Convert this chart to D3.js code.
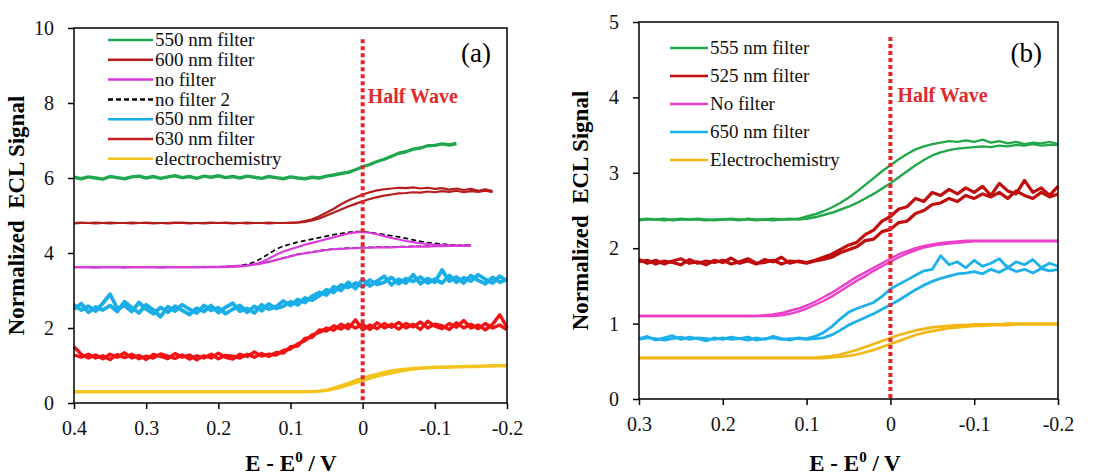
<!DOCTYPE html>
<html>
<head>
<meta charset="utf-8">
<script src="https://cdn.jsdelivr.net/npm/d3@7"></script>
<style>
body { margin: 0; background: #fff; }
svg { display: block; }
text { font-family: "Liberation Serif", "Times New Roman", serif; }
</style>
</head>
<body>
<script>
// ---------- panel (a) data ----------
var voltsA = [0.40,0.39,0.38,0.37,0.36,0.35,0.34,0.33,0.32,0.31,
  0.30,0.29,0.28,0.27,0.26,0.25,0.24,0.23,0.22,0.21,
  0.20,0.19,0.18,0.17,0.16,0.15,0.14,0.13,0.12,0.11,
  0.10,0.09,0.08,0.07,0.06,0.05,0.04,0.03,0.02,0.01,
  0.00,-0.01,-0.02,-0.03,-0.04,-0.05,-0.06,-0.07,-0.08,-0.09,
  -0.10,-0.11,-0.12,-0.13,-0.14,-0.15,-0.16,-0.17,-0.18,-0.19,-0.20];

var green550 = [6.02,5.98,6.03,6.00,5.97,6.04,6.01,5.98,6.03,6.05,
  6.00,6.04,5.99,6.03,6.06,6.01,6.04,5.99,6.05,6.02,
  6.06,6.01,6.04,6.00,6.05,6.02,5.99,6.04,6.01,5.98,
  6.03,6.00,5.98,6.02,6.00,6.05,6.08,6.12,6.15,6.22,
  6.30,6.36,6.44,6.50,6.58,6.66,6.70,6.77,6.80,6.86,
  6.87,6.91,6.88,6.92,null,null,null,null,null,null,null];

var red600Up = [4.80,4.81,4.80,4.79,4.80,4.81,4.80,4.80,4.79,4.80,
  4.81,4.80,4.80,4.79,4.80,4.81,4.80,4.80,4.79,4.80,
  4.80,4.81,4.80,4.80,4.79,4.80,4.80,4.81,4.80,4.80,
  4.81,4.82,4.85,4.90,4.98,5.08,5.18,5.30,5.40,5.48,
  5.56,5.62,5.67,5.70,5.72,5.74,5.73,5.75,5.72,5.74,
  5.71,5.73,5.69,5.72,5.68,5.71,5.66,5.70,5.65,null,null];
var red600Down = [4.79,4.80,4.80,4.81,4.80,4.79,4.80,4.80,4.81,4.80,
  4.80,4.79,4.80,4.80,4.81,4.80,4.79,4.80,4.80,4.81,
  4.80,4.80,4.79,4.80,4.81,4.80,4.80,4.79,4.80,4.80,
  4.80,4.81,4.83,4.87,4.92,5.00,5.08,5.16,5.24,5.31,
  5.38,5.44,5.49,5.53,5.56,5.59,5.60,5.62,5.61,5.64,
  5.62,5.65,5.63,5.66,5.62,5.65,5.63,5.66,5.62,null,null];

var noFilterUp = [3.62,3.62,3.62,3.61,3.62,3.62,3.62,3.61,3.62,3.62,
  3.62,3.62,3.61,3.62,3.62,3.62,3.62,3.62,3.63,3.62,
  3.62,3.63,3.63,3.64,3.66,3.70,3.76,3.85,3.95,4.04,
  4.10,4.16,4.22,4.27,4.32,4.37,4.42,4.47,4.52,4.55,
  4.56,4.54,4.50,4.45,4.40,4.36,4.32,4.29,4.26,4.24,
  4.22,4.21,4.20,4.20,4.19,4.19,null,null,null,null,null];
var noFilterDown = [3.62,3.62,3.62,3.62,3.62,3.62,3.62,3.62,3.62,3.62,
  3.62,3.62,3.62,3.62,3.62,3.62,3.62,3.62,3.62,3.63,
  3.63,3.64,3.65,3.66,3.67,3.69,3.72,3.76,3.81,3.86,
  3.91,3.96,3.99,4.02,4.05,4.08,4.10,4.11,4.12,4.13,
  4.14,4.14,4.15,4.15,4.15,4.16,4.16,4.17,4.17,4.17,
  4.18,4.18,4.19,4.19,4.19,4.20,null,null,null,null,null];

var noFilter2Up = [3.62,3.62,3.62,3.62,3.62,3.62,3.62,3.62,3.62,3.62,
  3.62,3.62,3.62,3.62,3.62,3.62,3.62,3.62,3.62,3.62,
  3.62,3.63,3.64,3.66,3.70,3.76,3.86,3.98,4.10,4.18,
  4.24,4.29,4.33,4.37,4.41,4.45,4.49,4.52,4.55,4.57,
  4.57,4.55,4.52,4.49,4.46,4.43,4.39,4.35,4.31,4.28,
  4.26,4.24,4.22,4.21,4.20,4.20,null,null,null,null,null];
var noFilter2Down = [3.62,3.62,3.62,3.62,3.62,3.62,3.62,3.62,3.62,3.62,
  3.62,3.62,3.62,3.62,3.62,3.62,3.62,3.62,3.62,3.62,
  3.63,3.64,3.65,3.67,3.68,3.70,3.73,3.77,3.82,3.87,
  3.92,3.97,4.00,4.03,4.06,4.09,4.11,4.12,4.13,4.14,
  4.15,4.15,4.16,4.16,4.16,4.17,4.17,4.18,4.18,4.18,
  4.19,4.19,4.20,4.20,4.21,4.21,null,null,null,null,null];

var blue650A1 = [2.62,2.48,2.58,2.45,2.66,2.90,2.52,2.60,2.44,2.68,
  2.50,2.38,2.55,2.42,2.58,2.47,2.36,2.53,2.44,2.60,
  2.41,2.55,2.66,2.45,2.52,2.40,2.62,2.50,2.57,2.72,
  2.60,2.76,2.68,2.85,2.95,2.88,3.10,3.00,3.22,3.05,
  3.30,3.12,3.25,3.38,3.15,3.30,3.20,3.42,3.18,3.32,
  3.22,3.55,3.25,3.36,3.20,3.40,3.27,3.18,3.35,3.22,3.30];
var blue650A2 = [2.50,2.65,2.42,2.56,2.48,2.60,2.44,2.70,2.55,2.40,
  2.62,2.48,2.30,2.57,2.45,2.62,2.50,2.40,2.60,2.47,
  2.54,2.38,2.50,2.60,2.42,2.58,2.46,2.64,2.52,2.58,
  2.70,2.62,2.80,2.74,2.86,3.02,2.95,3.15,3.08,3.20,
  3.10,3.28,3.16,3.22,3.35,3.18,3.32,3.24,3.36,3.20,
  3.30,3.20,3.40,3.22,3.34,3.25,3.42,3.30,3.20,3.38,3.25];

var red630A1 = [1.50,1.30,1.20,1.28,1.18,1.30,1.22,1.34,1.20,1.27,
  1.16,1.30,1.24,1.18,1.32,1.22,1.28,1.15,1.26,1.20,
  1.33,1.22,1.17,1.30,1.24,1.36,1.25,1.30,1.28,1.40,
  1.44,1.58,1.66,1.82,1.88,2.00,1.94,2.10,1.98,2.22,
  1.95,2.08,1.98,2.12,2.02,2.15,2.00,2.10,1.96,2.18,
  2.05,1.98,2.12,2.02,2.20,2.00,2.08,1.95,2.10,2.35,2.02];
var red630A2 = [1.28,1.22,1.30,1.20,1.26,1.16,1.29,1.21,1.30,1.18,
  1.25,1.20,1.31,1.25,1.19,1.28,1.17,1.26,1.20,1.30,
  1.18,1.27,1.25,1.20,1.30,1.22,1.32,1.24,1.35,1.33,
  1.50,1.52,1.72,1.75,1.95,1.92,2.06,1.97,2.10,2.00,
  2.10,1.96,2.14,2.00,2.10,1.97,2.12,2.03,2.16,2.00,
  2.10,2.06,1.96,2.14,2.00,2.10,1.98,2.12,2.00,2.08,1.95];

var echemAUp = [0.30,0.30,0.30,0.30,0.30,0.30,0.30,0.30,0.30,0.30,
  0.30,0.30,0.30,0.30,0.30,0.30,0.30,0.30,0.30,0.30,
  0.30,0.30,0.30,0.30,0.30,0.30,0.30,0.30,0.30,0.30,
  0.30,0.30,0.30,0.31,0.32,0.35,0.40,0.46,0.53,0.60,
  0.66,0.72,0.77,0.82,0.86,0.89,0.91,0.93,0.94,0.95,
  0.96,0.96,0.97,0.97,0.98,0.98,0.99,0.99,1.00,1.00,1.00];
var echemADown = [0.30,0.30,0.30,0.30,0.30,0.30,0.30,0.30,0.30,0.30,
  0.30,0.30,0.30,0.30,0.30,0.30,0.30,0.30,0.30,0.30,
  0.30,0.30,0.30,0.30,0.30,0.30,0.30,0.30,0.30,0.30,
  0.30,0.30,0.30,0.30,0.31,0.33,0.37,0.42,0.48,0.54,
  0.60,0.66,0.71,0.76,0.80,0.84,0.87,0.90,0.92,0.93,
  0.94,0.95,0.95,0.96,0.96,0.97,0.97,0.98,0.98,0.99,0.99];

var xTicksA = [0.4,0.3,0.2,0.1,0,-0.1,-0.2];
var xLabelsA = ["0.4","0.3","0.2","0.1","0","-0.1","-0.2"];
var yTicksA = [0,2,4,6,8,10];
var yLabelsA = ["0","2","4","6","8","10"];

// ---------- panel (b) data ----------
var voltsB = [0.30,0.29,0.28,0.27,0.26,0.25,0.24,0.23,0.22,0.21,
  0.20,0.19,0.18,0.17,0.16,0.15,0.14,0.13,0.12,0.11,
  0.10,0.09,0.08,0.07,0.06,0.05,0.04,0.03,0.02,0.01,
  0.00,-0.01,-0.02,-0.03,-0.04,-0.05,-0.06,-0.07,-0.08,-0.09,
  -0.10,-0.11,-0.12,-0.13,-0.14,-0.15,-0.16,-0.17,-0.18,-0.19,-0.20];

var green555Up = [2.38,2.39,2.38,2.37,2.38,2.39,2.38,2.38,2.37,2.38,
  2.38,2.39,2.38,2.38,2.37,2.38,2.39,2.38,2.38,2.39,
  2.42,2.45,2.49,2.54,2.60,2.67,2.75,2.84,2.93,3.02,
  3.10,3.18,3.25,3.31,3.35,3.38,3.40,3.42,3.41,3.43,
  3.41,3.44,3.40,3.42,3.39,3.41,3.38,3.40,3.39,3.41,3.38];
var green555Down = [2.37,2.38,2.38,2.39,2.37,2.38,2.38,2.39,2.38,2.37,
  2.38,2.38,2.37,2.39,2.38,2.38,2.37,2.38,2.39,2.38,
  2.39,2.41,2.44,2.47,2.51,2.55,2.60,2.66,2.72,2.79,
  2.86,2.94,3.02,3.10,3.17,3.23,3.27,3.30,3.32,3.33,
  3.34,3.35,3.34,3.36,3.35,3.37,3.36,3.38,3.36,3.37,3.37];

var red525Up = [1.85,1.80,1.84,1.79,1.83,1.86,1.80,1.82,1.78,1.84,
  1.81,1.87,1.80,1.83,1.79,1.85,1.82,1.88,1.80,1.83,
  1.81,1.84,1.88,1.92,1.98,2.04,2.08,2.18,2.24,2.36,
  2.42,2.52,2.55,2.66,2.62,2.74,2.70,2.78,2.72,2.80,
  2.74,2.82,2.70,2.86,2.76,2.72,2.90,2.74,2.80,2.70,2.82];
var red525Down = [1.82,1.84,1.79,1.83,1.81,1.78,1.85,1.80,1.83,1.81,
  1.84,1.79,1.82,1.86,1.80,1.81,1.84,1.79,1.83,1.82,
  1.80,1.83,1.85,1.88,1.94,1.98,2.02,2.10,2.12,2.22,
  2.25,2.34,2.36,2.46,2.50,2.58,2.60,2.66,2.62,2.70,
  2.66,2.72,2.68,2.74,2.66,2.76,2.70,2.66,2.74,2.68,2.72];

var noFilterBUp = [1.10,1.10,1.10,1.10,1.10,1.10,1.10,1.10,1.10,1.10,
  1.10,1.10,1.10,1.10,1.10,1.11,1.12,1.14,1.17,1.20,
  1.24,1.29,1.35,1.41,1.48,1.55,1.62,1.68,1.74,1.80,
  1.86,1.92,1.96,2.00,2.03,2.05,2.07,2.08,2.09,2.10,
  2.10,2.10,2.10,2.10,2.10,2.10,2.10,2.10,2.10,2.10,2.10];
var noFilterBDown = [1.10,1.10,1.10,1.10,1.10,1.10,1.10,1.10,1.10,1.10,
  1.10,1.10,1.10,1.10,1.10,1.10,1.10,1.11,1.13,1.16,
  1.20,1.25,1.30,1.36,1.43,1.50,1.57,1.63,1.70,1.76,
  1.82,1.88,1.93,1.97,2.01,2.03,2.05,2.06,2.07,2.08,
  2.09,2.09,2.09,2.09,2.09,2.09,2.09,2.09,2.09,2.09,2.09];

var blue650BUp = [0.80,0.83,0.78,0.81,0.84,0.79,0.82,0.80,0.77,0.81,
  0.79,0.82,0.80,0.78,0.81,0.79,0.83,0.80,0.78,0.81,
  0.80,0.83,0.88,0.96,1.06,1.15,1.20,1.24,1.28,1.36,
  1.46,1.52,1.58,1.64,1.70,1.72,1.90,1.78,1.82,1.74,
  1.84,1.76,1.80,1.86,1.74,1.82,1.78,1.85,1.74,1.80,1.76];
var blue650BDown = [0.79,0.81,0.80,0.78,0.80,0.82,0.79,0.81,0.80,0.79,
  0.81,0.79,0.80,0.82,0.78,0.80,0.81,0.79,0.80,0.80,
  0.79,0.80,0.81,0.85,0.91,0.98,1.03,1.08,1.13,1.19,
  1.25,1.31,1.38,1.45,1.51,1.56,1.60,1.63,1.66,1.67,
  1.69,1.66,1.72,1.68,1.74,1.69,1.72,1.67,1.73,1.70,1.72];

var echemBUp = [0.55,0.55,0.55,0.55,0.55,0.55,0.55,0.55,0.55,0.55,
  0.55,0.55,0.55,0.55,0.55,0.55,0.55,0.55,0.55,0.55,
  0.55,0.55,0.56,0.57,0.59,0.62,0.65,0.69,0.73,0.77,
  0.81,0.85,0.88,0.91,0.93,0.95,0.96,0.97,0.98,0.98,
  0.99,0.99,0.99,0.99,1.00,1.00,1.00,1.00,1.00,1.00,1.00];
var echemBDown = [0.54,0.54,0.54,0.54,0.54,0.54,0.54,0.54,0.54,0.54,
  0.54,0.54,0.54,0.54,0.54,0.54,0.54,0.54,0.54,0.54,
  0.54,0.54,0.54,0.55,0.56,0.57,0.59,0.62,0.65,0.69,
  0.73,0.77,0.81,0.85,0.88,0.90,0.92,0.94,0.95,0.96,
  0.97,0.97,0.98,0.98,0.98,0.99,0.99,0.99,0.99,0.99,0.99];

var xTicksB = [0.3,0.2,0.1,0,-0.1,-0.2];
var xLabelsB = ["0.3","0.2","0.1","0","-0.1","-0.2"];
var yTicksB = [0,1,2,3,4,5];
var yLabelsB = ["0","1","2","3","4","5"];

// ---------- drawing ----------
var serif = "'Liberation Serif', 'Times New Roman', serif";

var svg = d3.select("body").append("svg")
    .attr("width", 1095)
    .attr("height", 475)
    .attr("font-family", serif);

function drawPanel(p) {
    var x = d3.scaleLinear().domain(p.xDomain).range([p.left, p.right]);
    var y = d3.scaleLinear().domain(p.yDomain).range([p.bottom, p.top]);

    var g = svg.append("g");

    var line = d3.line()
        .defined(function(d){ return d[1] != null; })
        .x(function(d){ return x(d[0]); })
        .y(function(d){ return y(d[1]); });

    // draw bottom legend entries first so the upper ones sit on top
    p.series.slice().reverse().forEach(function(s){
        s.branches.forEach(function(b){
            var pts = p.volts.map(function(v, i){ return [v, b[i]]; });
            g.append("path")
                .attr("d", line(pts))
                .attr("fill", "none")
                .attr("stroke", s.color)
                .attr("stroke-width", s.width)
                .attr("stroke-dasharray", s.dash || null)
                .attr("stroke-linejoin", "round");
        });
    });

    // half wave marker
    g.append("line")
        .attr("x1", x(0)).attr("x2", x(0))
        .attr("y1", y(p.halfTop)).attr("y2", y(0))
        .attr("stroke", "#e3262b")
        .attr("stroke-width", 4)
        .attr("stroke-dasharray", "4,3");
    g.append("text")
        .attr("x", x(0) + p.halfDx)
        .attr("y", p.halfY)
        .attr("fill", "#de2a2e")
        .attr("font-weight", "bold")
        .attr("font-size", 20)
        .text("Half Wave");

    // frame
    g.append("rect")
        .attr("x", p.left).attr("y", p.top)
        .attr("width", p.right - p.left).attr("height", p.bottom - p.top)
        .attr("fill", "none").attr("stroke", "#000").attr("stroke-width", 1.5);

    var xAxis = g.append("g")
        .attr("transform", "translate(0," + p.bottom + ")")
        .call(d3.axisBottom(x).tickValues(p.xTicks)
            .tickFormat(function(d, i){ return p.xLabels[i]; })
            .tickSize(6).tickPadding(12));
    var yAxis = g.append("g")
        .attr("transform", "translate(" + p.left + ",0)")
        .call(d3.axisLeft(y).tickValues(p.yTicks)
            .tickFormat(function(d, i){ return p.yLabels[i]; })
            .tickSize(6).tickPadding(14));
    [xAxis, yAxis].forEach(function(a){
        a.attr("font-family", serif).attr("font-size", 20);
        a.select(".domain").remove();
        a.selectAll("line").attr("stroke", "#000").attr("stroke-width", 1.5);
        a.selectAll("text").attr("fill", "#111");
    });

    // axis titles
    g.append("text")
        .attr("transform", "translate(" + p.yTitleX + "," + ((p.top + p.bottom) / 2) + ") rotate(-90)")
        .attr("text-anchor", "middle")
        .attr("font-weight", "bold")
        .attr("font-size", 23)
        .style("white-space", "pre")
        .text("Normalized  ECL Signal");

    var xt = g.append("text")
        .attr("x", p.xTitleX)
        .attr("y", 471)
        .attr("text-anchor", "middle")
        .attr("font-weight", "bold")
        .attr("font-size", 23)
        .style("white-space", "pre");
    xt.append("tspan").text("E - E");
    xt.append("tspan").attr("dy", -9).attr("font-size", 15).text("0");
    xt.append("tspan").attr("dy", 9).text(" / V");

    // panel tag
    g.append("text")
        .attr("x", p.right - 16)
        .attr("y", p.tagY)
        .attr("text-anchor", "end")
        .attr("font-size", 27)
        .text(p.tag);

    // legend
    p.series.forEach(function(s, i){
        var ly = p.legY + i * p.legStep;
        g.append("line")
            .attr("x1", p.legX).attr("x2", p.legX + p.legLen)
            .attr("y1", ly).attr("y2", ly)
            .attr("stroke", s.legendColor || s.color)
            .attr("stroke-width", 2.5)
            .attr("stroke-dasharray", s.dash || null);
        g.append("text")
            .attr("x", p.legX + p.legLen + 2)
            .attr("y", ly)
            .attr("dy", "0.33em")
            .attr("font-size", 19)
            .attr("fill", "#111")
            .text(s.name);
    });
}

drawPanel({
    left: 74, right: 507, top: 28, bottom: 403,
    xDomain: [0.4, -0.2], yDomain: [0, 10],
    volts: voltsA, xTicks: xTicksA, xLabels: xLabelsA, yTicks: yTicksA, yLabels: yLabelsA,
    halfTop: 9.7, halfDx: 5, halfY: 103,
    yTitleX: 24, xTitleX: 291, tag: "(a)", tagY: 62,
    legX: 108, legY: 40, legStep: 19.8, legLen: 45,
    series: [
        {name: "550 nm filter", color: "#1fa84f", width: 3.4, branches: [green550]},
        {name: "600 nm filter", color: "#b51d1d", width: 2.2, branches: [red600Up, red600Down]},
        {name: "no filter", color: "#d93ad9", width: 2.2, branches: [noFilterUp, noFilterDown]},
        {name: "no filter 2", color: "#000", width: 1.6, dash: "5,3", branches: [noFilter2Up, noFilter2Down]},
        {name: "650 nm filter", color: "#1aaee8", width: 3.8, branches: [blue650A1, blue650A2]},
        {name: "630 nm filter", color: "#f21414", legendColor: "#c42222", width: 3.4, branches: [red630A1, red630A2]},
        {name: "electrochemistry", color: "#f3c41c", width: 3, branches: [echemAUp, echemADown]}
    ]
});

drawPanel({
    left: 639, right: 1058, top: 22, bottom: 399,
    xDomain: [0.3, -0.2], yDomain: [0, 5],
    volts: voltsB, xTicks: xTicksB, xLabels: xLabelsB, yTicks: yTicksB, yLabels: yLabelsB,
    halfTop: 4.8, halfDx: 7, halfY: 102,
    yTitleX: 588, xTitleX: 855, tag: "(b)", tagY: 62,
    legX: 670, legY: 48, legStep: 28, legLen: 38,
    series: [
        {name: "555 nm filter", color: "#22a84b", width: 2.4, branches: [green555Up, green555Down]},
        {name: "525 nm filter", color: "#c00d0d", width: 3.2, branches: [red525Up, red525Down]},
        {name: "No filter", color: "#ec3fc9", width: 2.4, branches: [noFilterBUp, noFilterBDown]},
        {name: "650 nm filter", color: "#1db0ea", width: 2.8, branches: [blue650BUp, blue650BDown]},
        {name: "Electrochemistry", color: "#f4b612", width: 2.6, branches: [echemBUp, echemBDown]}
    ]
});
</script>
</body>
</html>
